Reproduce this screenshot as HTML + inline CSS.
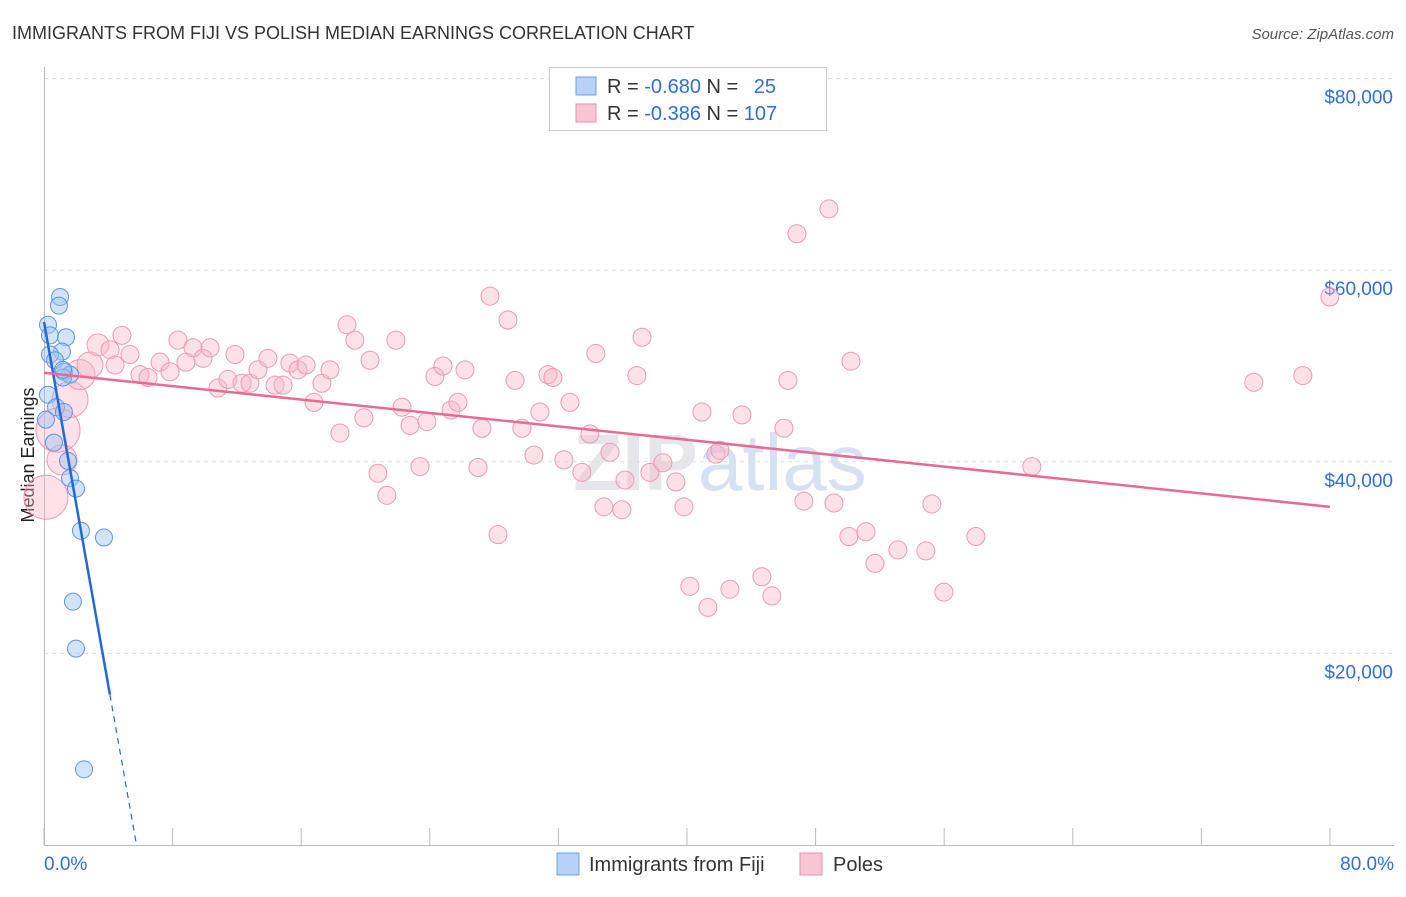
<!DOCTYPE html>
<html><head><meta charset="utf-8"><style>
body{margin:0;background:#fff;font-family:"Liberation Sans",sans-serif;}
svg text{font-family:"Liberation Sans",sans-serif;}
</style></head><body>
<svg id="c" width="1406" height="892">
<text x="12" y="39" font-size="18" fill="#333">IMMIGRANTS FROM FIJI VS POLISH MEDIAN EARNINGS CORRELATION CHART</text>
<text x="1394" y="39" font-size="15" fill="#555" font-style="italic" text-anchor="end">Source: ZipAtlas.com</text>
<text x="34" y="455" font-size="18" fill="#222" transform="rotate(-90 34 455)" text-anchor="middle">Median Earnings</text>
<text x="720" y="490" font-size="80" fill="#e6e6ea" text-anchor="middle" font-weight="bold">ZIP<tspan fill="#d6e2f2" font-weight="normal">atlas</tspan></text>
<g id="grid"></g><g id="pts"></g><g id="lines"></g>
<g>
<rect x="549.5" y="67.5" width="277" height="63" fill="#fff" stroke="#ccc"/>
<rect x="576" y="77" width="20" height="18" fill="#b7d2f5" stroke="#6e9fe0"/>
<rect x="576" y="104" width="20" height="18" fill="#f9c4d4" stroke="#eb8fac"/>
<text x="607" y="93" font-size="20" fill="#333">R = <tspan fill="#2f6fd6">-0.680</tspan>   N =  <tspan fill="#2f6fd6" dx="10">25</tspan></text>
<text x="607" y="120" font-size="20" fill="#333">R = <tspan fill="#2f6fd6"> -0.386</tspan>   N = <tspan fill="#2f6fd6">107</tspan></text>
</g>
<g>
<rect x="557" y="853" width="22" height="22" fill="#b7d2f5" stroke="#6e9fe0"/>
<text x="589" y="871" font-size="20" fill="#333">Immigrants from Fiji</text>
<rect x="800" y="853" width="22" height="22" fill="#f9c4d4" stroke="#eb8fac"/>
<text x="833" y="871" font-size="20" fill="#333">Poles</text>
</g>
</svg>
<script>
const yTicks=[20000,40000,60000,80000];
const yTickLabels=["$20,000","$40,000","$60,000","$80,000"];
const xTickLabels=["0.0%","80.0%"];
const fijiX=[1.0,0.93,0.25,0.37,1.37,1.12,0.37,0.68,1.24,1.62,1.18,0.25,0.75,1.24,0.12,0.62,1.49,1.62,1.99,2.30,3.73,1.80,1.99,2.49,1.18];
const fijiY=[57200,56300,54300,53200,53000,51500,51200,50600,49400,49100,48800,47000,45700,45200,44400,42000,40100,38300,37200,32800,32100,25400,20500,7900,49600];
const polesX=[0.12,0.87,1.12,1.62,2.24,2.86,3.36,4.11,4.42,4.85,5.35,5.97,6.47,7.22,7.84,8.33,8.83,9.27,9.89,10.33,10.82,11.44,11.88,12.32,12.81,13.31,13.93,14.37,14.87,15.30,15.80,16.30,16.79,17.29,17.79,18.41,18.85,19.34,19.90,20.28,20.77,21.33,21.89,22.27,22.77,23.39,23.82,24.32,24.82,25.32,25.75,26.19,27.00,27.24,27.74,28.24,28.86,29.30,29.73,30.48,30.85,31.35,31.66,32.34,32.72,33.46,33.96,34.33,34.83,35.21,35.95,36.14,36.88,37.20,37.69,38.50,39.31,39.81,40.18,40.93,41.30,41.80,42.05,42.67,43.42,44.66,45.28,46.03,46.28,46.84,47.27,48.83,49.14,50.07,50.20,51.13,51.69,53.12,54.86,55.23,55.98,57.97,61.45,75.26,78.31,79.99];
const polesY=[36300,43300,40200,46500,49100,50100,52200,51700,50100,53200,51200,49100,48800,50400,49400,52700,50400,51900,50800,51900,47700,48600,51200,48200,48200,49600,50800,48000,48000,50300,49600,50100,46200,48200,49600,43000,54300,52700,44600,50600,38800,36500,52700,45700,43800,39500,44200,48900,50000,45400,46200,49600,39400,43500,57300,32400,54800,48500,43500,40700,45200,49100,48800,40200,46200,38900,42900,51300,35300,41000,35000,38100,49000,53000,38900,39900,37900,35300,27000,45200,24800,40800,41200,26700,44900,28000,26000,43500,48500,63800,35900,66400,35700,32200,50500,32700,29400,30800,30700,35600,26400,32200,39500,48300,49000,57200];
const polesBig=[22,22,15,18,15,13,11];
const fijiTrend=[54600,15700]; // y at x=0, x=4.1
const polesTrend=[49300,35300]; // y at x=0, x=80
const NS="http://www.w3.org/2000/svg";
const X=v=>44+v/80*1286, Y=v=>845-v/1000*9.58;
function mk(t,a,p){const e=document.createElementNS(NS,t);for(const k in a)e.setAttribute(k,a[k]);p.appendChild(e);return e;}
const grid=document.getElementById('grid');
yTicks.forEach((t,i)=>{
 const l=mk('line',{x1:44,x2:1394,y1:Y(t),y2:Y(t),stroke:'#ddd','stroke-dasharray':'4 4'},grid);
 
 
 const tx=mk('text',{x:1393,y:Y(t)+25,'font-size':19,fill:'#2f6fd6','text-anchor':'end'},grid);tx.textContent=yTickLabels[i];
 
 
});
mk('line',{x1:44,x2:1394,y1:Y(80000),y2:Y(80000),stroke:'#ddd','stroke-dasharray':'4 4'},grid);
mk('line',{x1:44.5,x2:44.5,y1:67,y2:845,stroke:'#bbb'},grid);
mk('line',{x1:44,x2:1394,y1:845.5,y2:845.5,stroke:'#bbb'},grid);
for(let i=0;i<=10;i++){const t=mk('line',{x1:X(i*8),x2:X(i*8),y1:828,y2:845,stroke:'#bbb'},grid);
 
 }
const xl=mk('text',{x:44,y:870,'font-size':19,fill:'#2f6fd6'},grid);xl.textContent=xTickLabels[0];


const xr=mk('text',{x:1394,y:870,'font-size':19,fill:'#2f6fd6','text-anchor':'end'},grid);xr.textContent=xTickLabels[1];


const pts=document.getElementById('pts');
polesX.forEach((x,i)=>{const c=mk('circle',{cx:X(x),cy:Y(polesY[i]),r:polesBig[i]||9,fill:'rgba(248,180,200,0.4)',stroke:'#eb9ab3','stroke-width':1},pts);
 
 });
fijiX.forEach((x,i)=>{const c=mk('circle',{cx:X(x),cy:Y(fijiY[i]),r:8.5,fill:'rgba(160,195,240,0.45)',stroke:'#5f95de','stroke-width':1},pts);
 
 });
const lines=document.getElementById('lines');
const slope=(fijiTrend[1]-fijiTrend[0])/4.1, x0=-fijiTrend[0]/slope;
const b1=mk('line',{x1:X(0),y1:Y(fijiTrend[0]),x2:X(4.1),y2:Y(fijiTrend[1]),stroke:'#2468d8','stroke-width':2.5},lines);


const b2=mk('line',{x1:X(4.1),y1:Y(fijiTrend[1]),x2:X(x0),y2:Y(0),stroke:'#2468d8','stroke-width':1.2,'stroke-dasharray':'6 5'},lines);


const p1=mk('line',{x1:X(0),y1:Y(polesTrend[0]),x2:X(80),y2:Y(polesTrend[1]),stroke:'#e86a93','stroke-width':2.5},lines);


</script>
</body></html>
